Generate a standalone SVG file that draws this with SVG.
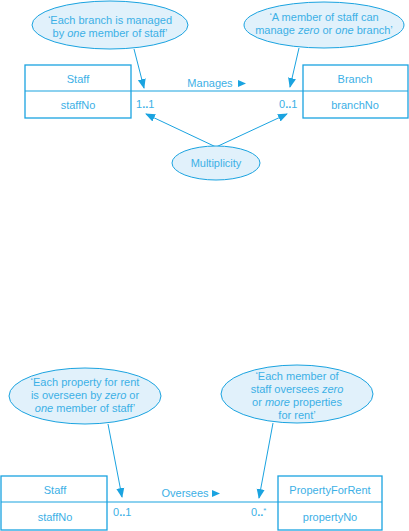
<svg xmlns="http://www.w3.org/2000/svg" width="409" height="531" viewBox="0 0 409 531">
<defs>
<style>
.box{fill:#fff;stroke:#1aa3e0;stroke-width:1.3}
.ell{fill:#e1f1fb;stroke:#1aa3e0;stroke-width:1}
.ln{stroke:#1aa3e0;stroke-width:1.2;fill:none}
.ar{stroke:#1aa3e0;stroke-width:1;fill:none;marker-end:url(#ah)}
text{font-family:"Liberation Sans",Arial,sans-serif;font-size:11px;fill:#3cb0e6}
.c{text-anchor:middle}
.tri{fill:#1aa3e0}
</style>
<marker id="ah" viewBox="0 0 10 10" refX="9" refY="5" markerWidth="10" markerHeight="10" markerUnits="userSpaceOnUse" orient="auto">
<path d="M0,1 L10,5 L0,9 Z" fill="#1aa3e0"/>
</marker>
</defs>
<g id="connectors">
<line class="ln" x1="131" y1="91" x2="303" y2="91"/>
<line class="ln" x1="107" y1="502" x2="278" y2="502"/>
<line class="ar" x1="134" y1="49" x2="144" y2="88"/>
<line class="ar" x1="299" y1="48" x2="290" y2="87"/>
<line class="ar" x1="216" y1="147" x2="146" y2="114"/>
<line class="ar" x1="216" y1="147" x2="287" y2="114"/>
<line class="ar" x1="108" y1="424" x2="122" y2="497"/>
<line class="ar" x1="273" y1="423" x2="259" y2="498"/>
<text class="c" x="210" y="87">Manages</text>
<path class="tri" d="M238,80 L246,83.5 L238,87 Z"/>
<text class="c" x="185" y="497">Oversees</text>
<path class="tri" d="M212,490 L220,493.5 L212,497 Z"/>
<text x="136" y="108">1<tspan font-weight="bold">..</tspan>1</text>
<text x="279" y="108">0<tspan font-weight="bold">..</tspan>1</text>
<text x="113" y="516">0<tspan font-weight="bold">..</tspan>1</text>
<text x="251" y="516">0<tspan font-weight="bold">..</tspan><tspan font-size="8" dy="-3">*</tspan></text>
</g>
<g id="staff1">
<rect class="box" x="25" y="65" width="106" height="53"/>
<line class="ln" x1="25" y1="91" x2="131" y2="91"/>
<text class="c" x="78" y="83">Staff</text>
<text class="c" x="78" y="109">staffNo</text>
</g>
<g id="branch">
<rect class="box" x="303" y="65" width="105" height="53"/>
<line class="ln" x1="303" y1="91" x2="408" y2="91"/>
<text class="c" x="355" y="83">Branch</text>
<text class="c" x="355" y="109">branchNo</text>
</g>
<g id="note1">
<ellipse class="ell" cx="110" cy="25" rx="78" ry="24"/>
<text class="c" x="110" y="24">‘Each branch is managed</text>
<text class="c" x="110" y="37">by <tspan font-style="italic">one</tspan> member of staff’</text>
</g>
<g id="note2">
<ellipse class="ell" cx="324" cy="25" rx="80" ry="23"/>
<text class="c" x="324" y="21">‘A member of staff can</text>
<text class="c" x="324" y="34">manage <tspan font-style="italic">zero</tspan> or <tspan font-style="italic">one</tspan> branch’</text>
</g>
<g id="multiplicity">
<ellipse class="ell" cx="216" cy="163" rx="44" ry="17"/>
<text class="c" x="216" y="167">Multiplicity</text>
</g>
<g id="staff2">
<rect class="box" x="1" y="476" width="106" height="54"/>
<line class="ln" x1="1" y1="502" x2="107" y2="502"/>
<text class="c" x="55" y="494">Staff</text>
<text class="c" x="55" y="521">staffNo</text>
</g>
<g id="propertyForRent">
<rect class="box" x="278" y="476" width="104" height="54"/>
<line class="ln" x1="278" y1="502" x2="382" y2="502"/>
<text class="c" x="330" y="494">PropertyForRent</text>
<text class="c" x="330" y="521">propertyNo</text>
</g>
<g id="note3">
<ellipse class="ell" cx="85" cy="396" rx="76" ry="28"/>
<text class="c" x="85" y="386">‘Each property for rent</text>
<text class="c" x="85" y="399">is overseen by <tspan font-style="italic">zero</tspan> or</text>
<text class="c" x="85" y="412"><tspan font-style="italic">one</tspan> member of staff’</text>
</g>
<g id="note4">
<ellipse class="ell" cx="297" cy="394" rx="76" ry="29"/>
<text class="c" x="297" y="380">‘Each member of</text>
<text class="c" x="297" y="393">staff oversees <tspan font-style="italic">zero</tspan></text>
<text class="c" x="297" y="406">or <tspan font-style="italic">more</tspan> properties</text>
<text class="c" x="297" y="419">for rent’</text>
</g>
</svg>
